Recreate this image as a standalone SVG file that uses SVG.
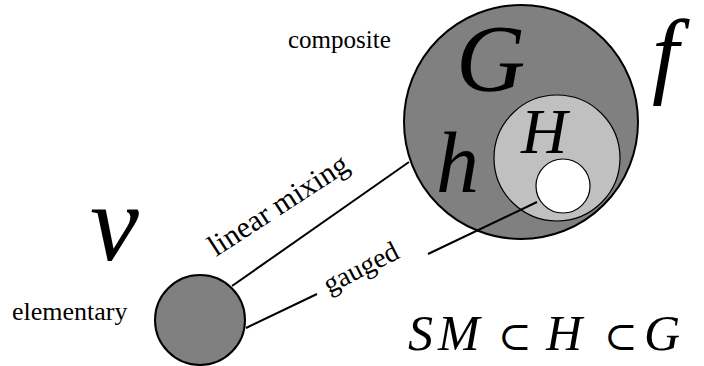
<svg xmlns="http://www.w3.org/2000/svg" width="704" height="366" viewBox="0 0 704 366">
<defs>
<style>
.edge{stroke:#000;stroke-width:2;fill:none}
</style>
</defs>
<rect width="704" height="366" fill="#fff"/>
<g id="composite">
<circle cx="521" cy="122" r="117" fill="#808080" stroke="#000" stroke-width="2"/>
<text font-family="Liberation Serif, Times New Roman, serif" font-style="italic" x="456" y="91" font-size="96">G</text>
<text font-family="Liberation Serif, Times New Roman, serif" font-style="italic" x="436" y="192" font-size="86">h</text>
</g>
<g id="H">
<circle cx="557" cy="158" r="63" fill="#c0c0c0" stroke="#000" stroke-width="1.2"/>
<text font-family="Liberation Serif, Times New Roman, serif" font-style="italic" x="521" y="153" font-size="64">H</text>
</g>
<g id="SM">
<circle cx="563" cy="186" r="27" fill="#fff" stroke="#000" stroke-width="1.2"/>
</g>
<g id="elementary">
<circle cx="200" cy="320" r="45" fill="#808080" stroke="#000" stroke-width="2"/>
</g>
<g id="connectors">
<line class="edge" x1="232" y1="286" x2="409" y2="162"/>
<line class="edge" x1="246" y1="328" x2="317" y2="294"/>
<line class="edge" x1="428" y1="254" x2="537" y2="202"/>
</g>
<g id="labels" font-family="Liberation Serif, Times New Roman, serif" fill="#000">
<text x="288" y="48" font-size="25">composite</text>
<text x="12" y="320" font-size="26">elementary</text>
<text font-size="30" transform="translate(216,257) rotate(-33)">linear mixing</text>
<text font-size="28" transform="translate(329,294) rotate(-27)">gauged</text>
<text font-style="italic" x="652" y="86" font-size="96">f</text>
<text font-style="italic" x="90" y="260" font-size="110">v</text>
<text font-style="italic" x="408" y="350" font-size="50">S</text>
<text font-style="italic" x="438" y="350" font-size="50">M</text>
<text font-family="DejaVu Serif, serif" x="498" y="350" font-size="40">&#8834;</text>
<text font-style="italic" x="546" y="350" font-size="50">H</text>
<text font-family="DejaVu Serif, serif" x="604" y="350" font-size="40">&#8834;</text>
<text font-style="italic" x="644" y="350" font-size="50">G</text>
</g>
</svg>
